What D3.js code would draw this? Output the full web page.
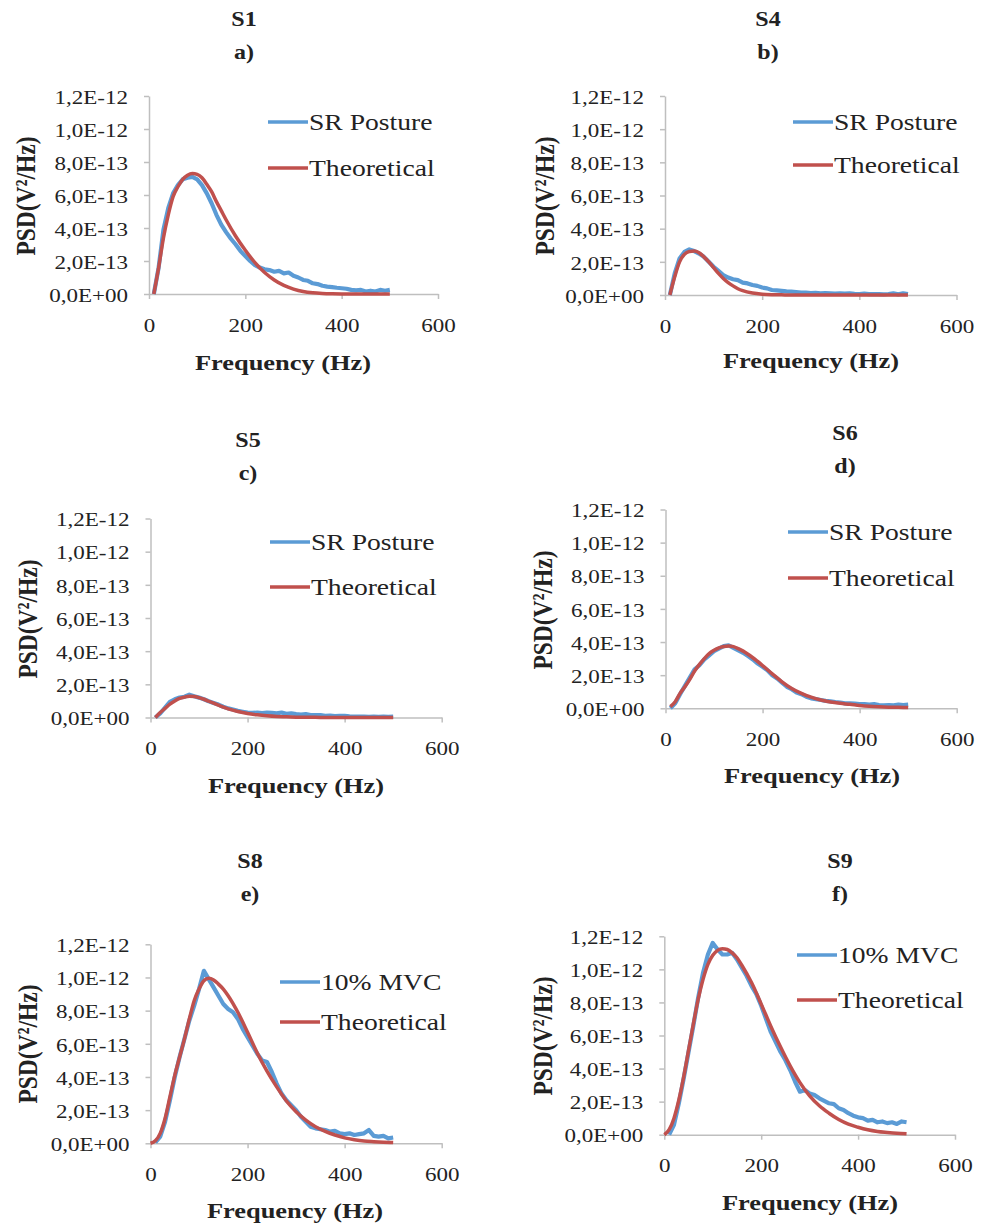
<!DOCTYPE html>
<html>
<head>
<meta charset="utf-8">
<script src="https://cdn.jsdelivr.net/npm/d3@7"></script>
<style>
  body { margin: 0; background: #fff; }
  text { font-family: "Liberation Serif", "Times New Roman", serif; fill: #222; }
</style>
</head>
<body>
<div id="chart"></div>
<script>
// PSD values are in units of 1e-13 V²/Hz

var yTickValues = [0, 2, 4, 6, 8, 10, 12];
var yTickLabels = ["0,0E+00", "2,0E-13", "4,0E-13", "6,0E-13", "8,0E-13", "1,0E-12", "1,2E-12"];
var xTickValues = [0, 200, 400, 600];

// frequency grid of the measured spectra (Hz)
var freqMeasured = d3.range(10, 501, 10);
// frequency grid of the theoretical curves (Hz)
var freqTheo = [0, 10, 20, 30, 40, 50, 60, 70, 80, 90, 100, 110, 120, 130, 140, 150, 160,
  180, 200, 220, 240, 260, 280, 300, 320, 340, 360, 380, 400, 420, 440, 460, 480, 500];

var subjects = ["S1", "S4", "S5", "S6", "S8", "S9"];
var letters = ["a)", "b)", "c)", "d)", "e)", "f)"];
var measuredNames = ["SR Posture", "SR Posture", "SR Posture", "SR Posture", "10% MVC", "10% MVC"];

var measS1 = [
  0.0, 1.6, 3.9, 5.2, 6.1, 6.6, 6.95, 7.05, 7.1, 6.95,
  6.6, 6.1, 5.5, 4.8, 4.2, 3.75, 3.35, 3.0, 2.6, 2.3,
  2.0, 1.75, 1.6, 1.5, 1.45, 1.35, 1.4, 1.25, 1.3, 1.1,
  1.0, 0.85, 0.8, 0.65, 0.6, 0.5, 0.45, 0.42, 0.38, 0.35,
  0.32, 0.25, 0.22, 0.25, 0.15, 0.2, 0.15, 0.25, 0.2, 0.25];
var measS4 = [
  0, 1.3, 2.2, 2.6, 2.75, 2.65, 2.5, 2.3, 2.0, 1.7,
  1.45, 1.2, 1.05, 0.95, 0.9, 0.75, 0.7, 0.6, 0.55, 0.45,
  0.4, 0.3, 0.28, 0.25, 0.22, 0.2, 0.18, 0.15, 0.15, 0.12,
  0.13, 0.1, 0.12, 0.1, 0.08, 0.1, 0.08, 0.1, 0.07, 0.06,
  0.08, 0.05, 0.06, 0.05, 0.04, 0.06, 0.1, 0.04, 0.1, 0.05];
var measS5 = [
  0, 0.25, 0.6, 0.95, 1.1, 1.2, 1.25, 1.38, 1.28, 1.2,
  1.1, 0.98, 0.88, 0.78, 0.65, 0.55, 0.48, 0.4, 0.35, 0.3,
  0.28, 0.3, 0.27, 0.3, 0.28, 0.25, 0.3, 0.22, 0.25, 0.2,
  0.18, 0.2, 0.15, 0.14, 0.15, 0.1, 0.12, 0.08, 0.1, 0.1,
  0.07, 0.06, 0.05, 0.06, 0.04, 0.05, 0.04, 0.05, 0.04, 0.05];
var measS6 = [
  0, 0.3, 0.85, 1.35, 1.85, 2.35, 2.6, 2.95, 3.2, 3.45,
  3.6, 3.75, 3.8, 3.65, 3.5, 3.35, 3.15, 2.95, 2.7, 2.5,
  2.3, 2.0, 1.8, 1.55, 1.3, 1.15, 0.95, 0.85, 0.7, 0.6,
  0.55, 0.5, 0.45, 0.42, 0.38, 0.35, 0.3, 0.3, 0.28, 0.25,
  0.25, 0.22, 0.25, 0.2, 0.18, 0.2, 0.18, 0.22, 0.2, 0.22];
var measS8 = [
  0.05, 0.4, 1.3, 2.6, 4.0, 5.2, 6.3, 7.4, 8.3, 9.3,
  10.4, 9.9, 9.4, 8.9, 8.4, 8.1, 7.9, 7.5, 6.9, 6.4,
  5.9, 5.4, 5.0, 4.9, 4.3, 3.6, 3.0, 2.6, 2.3, 2.0,
  1.6, 1.3, 1.0, 0.9, 0.85, 0.8, 0.7, 0.75, 0.6, 0.55,
  0.6, 0.5, 0.55, 0.6, 0.8, 0.45, 0.4, 0.45, 0.3, 0.35];
var measS9 = [
  0, 0.6, 1.9, 3.4, 5.0, 6.6, 8.3, 9.8, 10.9, 11.6,
  11.2, 10.9, 10.9, 11.0, 10.6, 10.1, 9.6, 9.0, 8.5, 7.8,
  7.0, 6.2, 5.6, 5.0, 4.5, 3.9, 3.2, 2.6, 2.7, 2.5,
  2.4, 2.2, 2.05, 1.9, 1.85, 1.6, 1.5, 1.3, 1.15, 1.05,
  1.0, 0.85, 0.9, 0.75, 0.8, 0.7, 0.75, 0.65, 0.8, 0.75];

var theoS1 = [null, 0, 1.6, 3.4, 4.8, 5.9, 6.5, 6.95, 7.2, 7.3, 7.25, 7.05, 6.65, 6.2, 5.6, 5.05, 4.5,
  3.5, 2.65, 1.9, 1.3, 0.85, 0.52, 0.3, 0.15, 0.07, 0.03, 0.01, 0, 0, 0, 0, 0, 0];
var theoS4 = [null, 0, 1.1, 2.0, 2.45, 2.62, 2.65, 2.55, 2.3, 2.0, 1.65, 1.3, 1.0, 0.75, 0.55, 0.38, 0.26,
  0.12, 0.05, 0.02, 0.01, 0, 0, 0, 0, 0, 0, 0, 0, 0, 0, 0, 0, 0];
var theoS5 = [null, 0, 0.3, 0.55, 0.8, 1.0, 1.15, 1.23, 1.28, 1.27, 1.2, 1.1, 0.98, 0.86, 0.74, 0.62, 0.52,
  0.36, 0.24, 0.16, 0.1, 0.06, 0.04, 0.02, 0.01, 0.01, 0, 0, 0, 0, 0, 0, 0, 0];
var theoS6 = [null, 0.1, 0.4, 0.9, 1.3, 1.75, 2.25, 2.65, 3.0, 3.3, 3.5, 3.65, 3.73, 3.76, 3.72, 3.6, 3.45,
  3.05, 2.58, 2.08, 1.6, 1.2, 0.9, 0.67, 0.5, 0.38, 0.3, 0.24, 0.17, 0.12, 0.09, 0.07, 0.06, 0.05];
var theoS8 = [0, 0.15, 0.6, 1.5, 2.8, 4.1, 5.2, 6.3, 7.5, 8.6, 9.3, 9.8, 9.95, 9.85, 9.6, 9.3, 8.9,
  7.9, 6.7, 5.45, 4.35, 3.4, 2.55, 1.9, 1.4, 1.0, 0.72, 0.5, 0.33, 0.22, 0.14, 0.1, 0.07, 0.05];
var theoS9 = [0, 0.3, 1.0, 2.1, 3.5, 5.1, 6.7, 8.2, 9.4, 10.3, 10.85, 11.15, 11.25, 11.2, 11.0, 10.7, 10.25,
  9.2, 7.9, 6.55, 5.3, 4.15, 3.15, 2.35, 1.75, 1.3, 0.92, 0.64, 0.45, 0.3, 0.2, 0.14, 0.09, 0.06];

var measured = [measS1, measS4, measS5, measS6, measS8, measS9];
var theoretical = [theoS1, theoS4, theoS5, theoS6, theoS8, theoS9];

// page layout of each panel: plot box, titles, legend
var panels = [
  {x0: 149,   x1: 438,   yTop: 96,    y0: 294,    tx: 244, ty: 26,  axX: 283, axY: 370,  psdX: 28,  psdY: 196,  lgX: 268, lgY: [122, 168]},
  {x0: 665,   x1: 956.5, yTop: 96,    y0: 295,    tx: 768, ty: 26,  axX: 811, axY: 368,  psdX: 547, psdY: 196,  lgX: 793, lgY: [122, 165]},
  {x0: 150.5, x1: 441.7, yTop: 518.5, y0: 717.5,  tx: 248, ty: 447, axX: 296, axY: 793,  psdX: 30,  psdY: 619,  lgX: 270, lgY: [542, 587]},
  {x0: 665.5, x1: 956.7, yTop: 509.5, y0: 708.3,  tx: 845, ty: 440, axX: 812, axY: 783,  psdX: 545, psdY: 610,  lgX: 788, lgY: [532, 578]},
  {x0: 150.5, x1: 441.7, yTop: 944.3, y0: 1143.3, tx: 250, ty: 868, axX: 295, axY: 1218, psdX: 30,  psdY: 1044, lgX: 280, lgY: [982, 1022]},
  {x0: 664.3, x1: 955,   yTop: 936.3, y0: 1134.7, tx: 840, ty: 868, axX: 810, axY: 1210, psdX: 545, psdY: 1036, lgX: 797, lgY: [955, 1000]}
];

var SX = 1.2;            // the figure is stretched horizontally
var SXT = 1.28;          // tick labels look a bit wider still
var blue = "#5b9bd5", red = "#c0504d", axisGray = "#bfbfbf";

var svg = d3.select("#chart").append("svg")
  .attr("width", 989).attr("height", 1226);
svg.append("rect").attr("width", 989).attr("height", 1226).attr("fill", "#fff");

function label(x, y, str, size, weight, anchor) {
  return svg.append("text")
    .attr("transform", "translate(" + x + "," + y + ") scale(" + SX + ",1)")
    .attr("text-anchor", anchor || "middle")
    .style("font-size", size + "px")
    .style("font-weight", weight || "normal")
    .text(str);
}

panels.forEach(function(p, k) {
  var x = d3.scaleLinear().domain([0, 600]).range([p.x0, p.x1]);
  var y = d3.scaleLinear().domain([0, 12]).range([p.y0, p.yTop]);

  // titles
  label(p.tx, p.ty, subjects[k], 20, "bold");
  label(p.tx, p.ty + 33, letters[k], 20, "bold");

  // axes
  var gy = svg.append("g").attr("transform", "translate(" + p.x0 + ",0)")
    .call(d3.axisLeft(y).tickValues(yTickValues)
      .tickFormat(function(d, i) { return yTickLabels[i]; })
      .tickSize(5).tickPadding(11.4).tickSizeOuter(0));
  var gx = svg.append("g").attr("transform", "translate(0," + p.y0 + ")")
    .call(d3.axisBottom(x).tickValues(xTickValues)
      .tickSize(5).tickPadding(20).tickSizeOuter(0));
  [gy, gx].forEach(function(g) {
    g.select(".domain").attr("stroke", axisGray).attr("stroke-width", 1.5);
    g.selectAll(".tick line").attr("stroke", axisGray).attr("stroke-width", 1.5);
    g.selectAll(".tick text")
      .attr("fill", "#333")
      .style("font-size", "18px")
      .style("font-family", "'Liberation Serif', 'Times New Roman', serif")
      .attr("transform", "scale(" + SXT + ",1)");
  });
  gy.selectAll(".tick text").attr("dy", "0.4em");

  // axis titles
  label(p.axX, p.axY, "Frequency (Hz)", 22, "bold");
  svg.append("text")
    .attr("transform", "translate(" + (p.psdX + 7) + "," + p.psdY + ") rotate(-90) scale(1," + SX + ")")
    .attr("text-anchor", "middle")
    .style("font-size", "23.5px")
    .style("font-weight", "bold")
    .text("PSD(V²/Hz)");

  // curves
  var meas = freqMeasured.map(function(f, i) { return {f: f, v: measured[k][i]}; });
  var theo = freqTheo.map(function(f, i) { return {f: f, v: theoretical[k][i]}; });

  var line = d3.line()
    .defined(function(d) { return d.v != null; })
    .x(function(d) { return x(d.f); })
    .y(function(d) { return y(d.v); });

  svg.append("path").datum(meas)
    .attr("d", line.curve(d3.curveLinear))
    .attr("fill", "none").attr("stroke", blue)
    .attr("stroke-width", 4.2).attr("stroke-linejoin", "round");
  svg.append("path").datum(theo)
    .attr("d", line.curve(d3.curveMonotoneX))
    .attr("fill", "none").attr("stroke", red)
    .attr("stroke-width", 3.5).attr("stroke-linejoin", "round");

  // legend
  [[measuredNames[k], blue], ["Theoretical", red]].forEach(function(item, j) {
    svg.append("line")
      .attr("x1", p.lgX).attr("x2", p.lgX + 40)
      .attr("y1", p.lgY[j]).attr("y2", p.lgY[j])
      .attr("stroke", item[1]).attr("stroke-width", 3.5);
    label(p.lgX + 41, p.lgY[j] + 7.5, item[0], 23, "normal", "start");
  });
});
</script>
</body>
</html>
